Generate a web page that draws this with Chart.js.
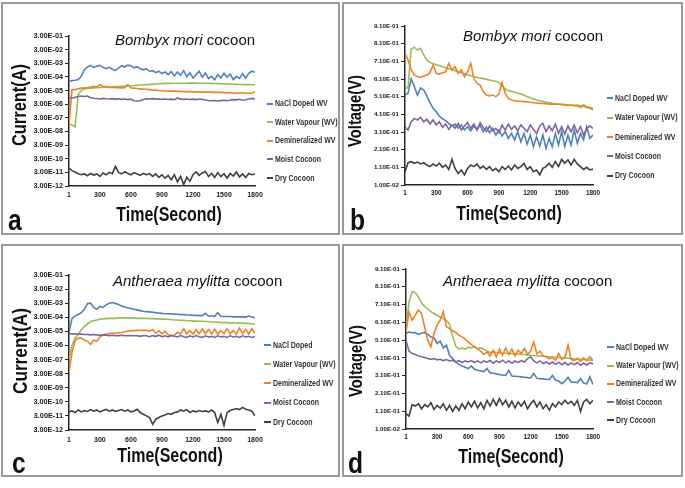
<!DOCTYPE html>
<html>
<head>
<meta charset="utf-8">
<title>Cocoon current / voltage vs time</title>
<script src="https://cdn.jsdelivr.net/npm/chart.js@4.4.1/dist/chart.umd.min.js"></script>
<style>
  html, body { margin: 0; padding: 0; background: #fff; }
  body { width: 685px; height: 488px; position: relative; overflow: hidden;
         font-family: 'Liberation Sans', Arial, sans-serif; color: #111; }
  .panel { position: absolute; box-sizing: border-box; border: 2px solid #9a9a9a; }
  .panel canvas { position: absolute; left: 0; top: 0; }
  .txt { position: absolute; white-space: nowrap; line-height: 1; }
  /* no narrow face installed: squeeze the bold face instead */
  .narrow { font-weight: bold; }
  .species { font-size: 15px; }
  .xtitle { font-size: 19.5px; transform: translate(-50%, -50%) scaleX(0.82); }
  .ytitle { transform: translate(-50%, -50%) rotate(-90deg) scaleX(0.82); }
  .letter { font-size: 30px; transform: scaleX(0.82); transform-origin: left center; }
  .leg { position: absolute; white-space: nowrap; font-size: 8.5px; line-height: 1; color: #333;
         transform: scaleX(0.82); transform-origin: left center; }
  .mark { position: absolute; height: 2px; }
</style>
</head>
<body>

<div class="panel" style="left:1px;top:2px;width:339px;height:233px"><canvas id="chart-a" width="335" height="229"></canvas></div>
<div class="panel" style="left:342px;top:2px;width:341px;height:233px"><canvas id="chart-b" width="337" height="229"></canvas></div>
<div class="panel" style="left:1px;top:244px;width:339px;height:233px"><canvas id="chart-c" width="335" height="229"></canvas></div>
<div class="panel" style="left:342px;top:244px;width:341px;height:233px"><canvas id="chart-d" width="337" height="229"></canvas></div>

<!-- species titles -->
<div class="txt species" style="left:115px;top:31.7px"><i>Bombyx mori</i> cocoon</div>
<div class="txt species" style="left:463px;top:27.7px"><i>Bombyx mori</i> cocoon</div>
<div class="txt species" style="left:113px;top:272.7px"><i>Antheraea mylitta</i> cocoon</div>
<div class="txt species" style="left:443px;top:272.7px"><i>Antheraea mylitta</i> cocoon</div>

<!-- axis titles -->
<div class="txt narrow ytitle" style="left:19px;top:105px;font-size:20px">Current(A)</div>
<div class="txt narrow ytitle" style="left:355px;top:111px;font-size:18px">Voltage(V)</div>
<div class="txt narrow ytitle" style="left:18.5px;top:351px;font-size:21px">Current(A)</div>
<div class="txt narrow ytitle" style="left:356px;top:361px;font-size:18px">Voltage(V)</div>
<div class="txt narrow xtitle" style="left:169px;top:214.5px">Time(Second)</div>
<div class="txt narrow xtitle" style="left:508.5px;top:214px">Time(Second)</div>
<div class="txt narrow xtitle" style="left:169.5px;top:456px">Time(Second)</div>
<div class="txt narrow xtitle" style="left:511px;top:457px">Time(Second)</div>

<!-- panel letters -->
<div class="txt narrow letter" style="left:8px;top:204.6px">a</div>
<div class="txt narrow letter" style="left:350px;top:204.6px">b</div>
<div class="txt narrow letter" style="left:12px;top:447.6px">c</div>
<div class="txt narrow letter" style="left:348px;top:447.6px">d</div>

<div id="legends"></div>

<script>
// sampling times (s)
const times = [1, 30, 60, 90, 120, 150, 180, 210, 240, 270, 300, 330, 360, 390, 420, 450, 480, 510, 540, 570,
  600, 630, 660, 690, 720, 750, 780, 810, 840, 870, 900, 930, 960, 990, 1020, 1050, 1080, 1110, 1140, 1170,
  1200, 1230, 1260, 1290, 1320, 1350, 1380, 1410, 1440, 1470, 1500, 1530, 1560, 1590, 1620, 1650, 1680, 1710,
  1740, 1770, 1800];
const timeTicks = [1, 300, 600, 900, 1200, 1500, 1800];
const currentTicks = [3e-12, 3e-11, 3e-10, 3e-9, 3e-8, 3e-7, 3e-6, 3e-5, 3e-4, 3e-3, 3e-2, 3e-1];
const voltageTicks = [0.01, 0.11, 0.21, 0.31, 0.41, 0.51, 0.61, 0.71, 0.81, 0.91];

const namesWV = ['NaCl Doped WV', 'Water Vapour (WV)', 'Demineralized WV', 'Moist Cocoon', 'Dry Cocoon'];
const namesC = ['NaCl Doped', 'Water Vapour (WV)', 'Demineralized WV', 'Moist Cocoon', 'Dry Cocoon'];
const seriesColors = ['#4f81bd', '#9bbb59', '#f28024', '#8064a2', '#404040'];

// a - Bombyx mori, current (A)
const naclA = [1.45e-4, 1.6e-4, 1.7e-4, 1.9e-4, 3.3e-4, 1.0e-3, 1.6e-3, 2.1e-3, 1.5e-3, 1.8e-3,
  2.1e-3, 1.5e-3, 1.2e-3, 1.5e-3, 1.1e-3, 9e-4, 1.3e-3, 2.0e-3, 1.6e-3, 2.2e-3,
  2.0e-3, 1.4e-3, 1.7e-3, 1.2e-3, 1.0e-3, 1.2e-3, 7.8e-4, 8.6e-4, 6.2e-4, 7.8e-4,
  5.3e-4, 7e-4, 4.4e-4, 7.4e-4, 3.5e-4, 7e-4, 4e-4, 8.6e-4, 3.2e-4, 5.9e-4,
  2.5e-4, 4.4e-4, 7.8e-4, 2.8e-4, 5.9e-4, 2.3e-4, 3.3e-4, 1.9e-4, 4.4e-4, 2.5e-4,
  5.6e-4, 2.8e-4, 4.9e-4, 1.9e-4, 3.3e-4, 2.3e-4, 5.3e-4, 2.5e-4, 5.6e-4, 7.8e-4, 6.5e-4];
const waterA = [1.15e-7, 9e-8, 6.4e-8, 1.5e-5, 3e-5, 4e-5, 4.3e-5, 4.5e-5, 4.7e-5, 4.8e-5,
  5e-5, 5.2e-5, 5.3e-5, 5.5e-5, 5.6e-5, 5.8e-5, 6e-5, 6.2e-5, 6.4e-5, 6.6e-5,
  6.8e-5, 7e-5, 7.3e-5, 7.6e-5, 7.9e-5, 8.2e-5, 8.5e-5, 8.8e-5, 9.1e-5, 9.4e-5,
  9.7e-5, 1e-4, 1e-4, 1e-4, 1.02e-4, 1.03e-4, 1.03e-4, 1.04e-4, 1.04e-4, 1.05e-4,
  1.05e-4, 1.05e-4, 1.04e-4, 1.04e-4, 1.03e-4, 1.02e-4, 1e-4, 9.8e-5, 9.6e-5, 9.4e-5,
  9.2e-5, 9e-5, 8.8e-5, 8.6e-5, 8.5e-5, 8.4e-5, 8.3e-5, 8.2e-5, 8.1e-5, 8e-5, 7.9e-5];
const demA = [1e-7, 3.5e-5, 3.5e-5, 4e-5, 4.5e-5, 4.7e-5, 5e-5, 5.5e-5, 6.2e-5, 5.5e-5,
  8e-5, 6.2e-5, 5.8e-5, 5e-5, 5.2e-5, 4.8e-5, 5e-5, 4.7e-5, 4.8e-5, 8.2e-5,
  4.6e-5, 4.5e-5, 4.2e-5, 4e-5, 3.8e-5, 3.7e-5, 3.5e-5, 3.3e-5, 3.2e-5, 3e-5,
  2.9e-5, 2.8e-5, 2.8e-5, 2.7e-5, 2.7e-5, 2.6e-5, 2.6e-5, 2.5e-5, 2.5e-5, 2.5e-5,
  2.4e-5, 2.4e-5, 2.4e-5, 2.3e-5, 2.3e-5, 2.3e-5, 2.3e-5, 2.2e-5, 2.2e-5, 2.2e-5,
  2.1e-5, 2.1e-5, 2.1e-5, 2e-5, 2e-5, 2e-5, 2e-5, 1.9e-5, 1.9e-5, 2e-5, 2.5e-5];
const moistA = [8.6e-6, 8.6e-6, 9.5e-6, 1.1e-5, 1.2e-5, 1.1e-5, 1.2e-5, 9e-6, 8.2e-6, 7.8e-6,
  7.2e-6, 8e-6, 7.5e-6, 7.2e-6, 7.6e-6, 7e-6, 7.4e-6, 6.8e-6, 7.2e-6, 6.5e-6,
  7e-6, 5.4e-6, 5.2e-6, 5.4e-6, 6.5e-6, 7.5e-6, 7.2e-6, 7.6e-6, 7e-6, 7.2e-6,
  6.8e-6, 7.2e-6, 6.6e-6, 7e-6, 6.5e-6, 8.6e-6, 7e-6, 6.8e-6, 7.2e-6, 6.6e-6,
  7e-6, 6.5e-6, 7.2e-6, 6.8e-6, 6e-6, 5.6e-6, 5.4e-6, 5.6e-6, 5.2e-6, 5.5e-6,
  5.8e-6, 5.4e-6, 6e-6, 6.5e-6, 6.2e-6, 6.8e-6, 5.8e-6, 6.4e-6, 7.2e-6, 8e-6, 7.2e-6];
const dryA = [6.2e-11, 4e-11, 3.2e-11, 2.4e-11, 2e-11, 2.3e-11, 1.7e-11, 2.5e-11, 1.9e-11, 2.3e-11,
  1.5e-11, 2.7e-11, 2e-11, 3e-11, 2.4e-11, 8.2e-11, 3e-11, 2.3e-11, 3.3e-11, 2.5e-11,
  2e-11, 2.9e-11, 2.3e-11, 1.8e-11, 2.5e-11, 2e-11, 2.4e-11, 1.5e-11, 2.3e-11, 1.3e-11,
  2e-11, 1.15e-11, 1.8e-11, 8.7e-12, 2e-11, 5.9e-12, 1.5e-11, 3.8e-12, 1.3e-11, 6.6e-12,
  2e-11, 3.2e-11, 1.8e-11, 2.7e-11, 3.5e-11, 1.5e-11, 2.5e-11, 1.3e-11, 2.9e-11, 1.45e-11,
  2.4e-11, 1.15e-11, 2.5e-11, 1.6e-11, 3.2e-11, 1.4e-11, 2.3e-11, 1.25e-11, 2.5e-11, 2e-11, 2.3e-11];

// b - Bombyx mori, voltage (V)
const naclB = [0.519, 0.529, 0.61, 0.567, 0.519, 0.56, 0.548, 0.514, 0.476, 0.444,
  0.425, 0.4, 0.385, 0.374, 0.359, 0.344, 0.355, 0.331, 0.35, 0.321,
  0.34, 0.316, 0.344, 0.325, 0.348, 0.312, 0.338, 0.306, 0.331, 0.293,
  0.321, 0.287, 0.312, 0.274, 0.302, 0.265, 0.312, 0.255, 0.302, 0.242,
  0.293, 0.227, 0.284, 0.23, 0.293, 0.218, 0.274, 0.227, 0.302, 0.236,
  0.312, 0.227, 0.293, 0.236, 0.321, 0.246, 0.302, 0.265, 0.34, 0.274, 0.293];
const waterB = [0.567, 0.557, 0.778, 0.79, 0.774, 0.784, 0.746, 0.718, 0.704, 0.697,
  0.691, 0.686, 0.68, 0.674, 0.668, 0.663, 0.657, 0.651, 0.646, 0.64,
  0.634, 0.629, 0.623, 0.619, 0.616, 0.612, 0.608, 0.604, 0.6, 0.597,
  0.591, 0.572, 0.553, 0.544, 0.54, 0.536, 0.529, 0.525, 0.519, 0.51,
  0.504, 0.497, 0.491, 0.487, 0.484, 0.48, 0.476, 0.472, 0.47, 0.468,
  0.467, 0.465, 0.463, 0.461, 0.461, 0.463, 0.459, 0.463, 0.453, 0.444, 0.435];
const demB = [0.755, 0.718, 0.661, 0.633, 0.623, 0.619, 0.627, 0.633, 0.646, 0.69,
  0.642, 0.638, 0.646, 0.651, 0.699, 0.661, 0.68, 0.642, 0.661, 0.623,
  0.651, 0.699, 0.614, 0.585, 0.576, 0.538, 0.519, 0.514, 0.519, 0.51,
  0.525, 0.589, 0.529, 0.5, 0.491, 0.487, 0.485, 0.484, 0.482, 0.48,
  0.478, 0.476, 0.474, 0.472, 0.472, 0.47, 0.468, 0.468, 0.467, 0.467,
  0.465, 0.465, 0.461, 0.463, 0.459, 0.457, 0.45, 0.457, 0.448, 0.45, 0.442];
const moistB = [0.34, 0.321, 0.368, 0.387, 0.378, 0.393, 0.368, 0.382, 0.355, 0.378,
  0.35, 0.368, 0.336, 0.355, 0.325, 0.35, 0.331, 0.359, 0.321, 0.344,
  0.363, 0.331, 0.355, 0.321, 0.363, 0.336, 0.312, 0.344, 0.317, 0.331,
  0.306, 0.35, 0.321, 0.355, 0.325, 0.344, 0.317, 0.35, 0.331, 0.312,
  0.35, 0.325, 0.302, 0.344, 0.359, 0.312, 0.344, 0.317, 0.355, 0.302,
  0.34, 0.298, 0.344, 0.312, 0.35, 0.306, 0.34, 0.293, 0.331, 0.344, 0.331];
const dryB = [0.085, 0.136, 0.142, 0.133, 0.14, 0.129, 0.136, 0.123, 0.114, 0.129,
  0.117, 0.133, 0.11, 0.123, 0.098, 0.155, 0.104, 0.076, 0.095, 0.067,
  0.104, 0.123, 0.114, 0.129, 0.104, 0.117, 0.098, 0.114, 0.091, 0.104,
  0.085, 0.114, 0.098, 0.117, 0.095, 0.123, 0.104, 0.114, 0.133, 0.098,
  0.114, 0.085, 0.095, 0.067, 0.104, 0.114, 0.133, 0.11, 0.142, 0.114,
  0.155, 0.133, 0.152, 0.123, 0.155, 0.129, 0.114, 0.098, 0.11, 0.095, 0.1];

// c - Antheraea mylitta, current (A)
const naclC = [2.5e-5, 2.4e-4, 3.8e-4, 4.7e-4, 6.4e-4, 1.1e-3, 2.8e-3, 3e-3, 1.5e-3, 1.1e-3,
  1.8e-3, 1.5e-3, 2.3e-3, 3e-3, 3.3e-3, 2.9e-3, 2.4e-3, 1.9e-3, 1.6e-3, 1.4e-3,
  1.25e-3, 1.1e-3, 1e-3, 8.9e-4, 8e-4, 7.6e-4, 7.2e-4, 6.8e-4, 6.4e-4, 6.1e-4,
  5.7e-4, 5.4e-4, 5.4e-4, 5.2e-4, 4.9e-4, 4.9e-4, 4.6e-4, 4.6e-4, 4.4e-4, 4.4e-4,
  4.1e-4, 4.1e-4, 3.9e-4, 3.9e-4, 5.7e-4, 3.7e-4, 3.7e-4, 3.5e-4, 6.4e-4, 3.5e-4,
  3.4e-4, 3.4e-4, 3.4e-4, 3.2e-4, 3.2e-4, 3.2e-4, 3.2e-4, 3.1e-4, 3.7e-4, 3.1e-4, 2.8e-4];
const waterC = [3e-7, 3e-6, 1e-5, 1.9e-5, 3.9e-5, 6.8e-5, 1e-4, 1.5e-4, 1.7e-4, 1.9e-4,
  2.2e-4, 2.3e-4, 2.4e-4, 2.5e-4, 2.5e-4, 2.5e-4, 2.7e-4, 2.7e-4, 2.7e-4, 2.7e-4,
  2.7e-4, 2.7e-4, 2.5e-4, 2.5e-4, 2.5e-4, 2.5e-4, 2.4e-4, 2.4e-4, 2.3e-4, 2.3e-4,
  2.2e-4, 2.2e-4, 2.1e-4, 2.1e-4, 1.9e-4, 1.9e-4, 1.8e-4, 1.8e-4, 1.7e-4, 1.7e-4,
  1.6e-4, 1.6e-4, 1.55e-4, 1.55e-4, 1.5e-4, 1.5e-4, 1.4e-4, 1.4e-4, 1.3e-4, 1.3e-4,
  1.25e-4, 1.25e-4, 1.2e-4, 1.2e-4, 1.2e-4, 1.15e-4, 1.15e-4, 1.1e-4, 1.1e-4, 1e-4, 1e-4];
const demC = [3.5e-8, 9.7e-7, 6.5e-6, 1e-5, 1e-5, 7.4e-6, 5.9e-6, 3.5e-6, 7.4e-6, 5.9e-6,
  1.2e-5, 1.7e-5, 1.9e-5, 2.1e-5, 2.2e-5, 2.3e-5, 2.4e-5, 2.5e-5, 2.8e-5, 3.1e-5,
  3.3e-5, 3.4e-5, 3.5e-5, 3.5e-5, 3.5e-5, 3.5e-5, 3.1e-5, 4e-5, 2.2e-5, 3.3e-5,
  2e-5, 3.1e-5, 1.7e-5, 1.5e-5, 1.6e-5, 2.5e-5, 2e-5, 4.6e-5, 2e-5, 3.5e-5,
  1.9e-5, 4e-5, 2e-5, 4.6e-5, 2.1e-5, 4e-5, 2e-5, 4.3e-5, 1.9e-5, 3.3e-5,
  2.1e-5, 4.6e-5, 2e-5, 3.5e-5, 1.9e-5, 5e-5, 2.1e-5, 4e-5, 2e-5, 4.6e-5, 2.2e-5];
const moistC = [2.1e-5, 2e-5, 2e-5, 1.9e-5, 1.9e-5, 1.8e-5, 1.8e-5, 1.7e-5, 1.8e-5, 1.7e-5,
  1.6e-5, 1.7e-5, 1.6e-5, 1.5e-5, 1.6e-5, 1.5e-5, 1.5e-5, 1.6e-5, 1.5e-5, 1.45e-5,
  1.5e-5, 1.45e-5, 1.5e-5, 1.33e-5, 1.5e-5, 1.45e-5, 1.25e-5, 1.5e-5, 1.33e-5, 1.6e-5,
  1.25e-5, 1.45e-5, 1.2e-5, 1.5e-5, 1.33e-5, 1.2e-5, 1.5e-5, 1.25e-5, 1.12e-5, 1.45e-5,
  1.2e-5, 1.5e-5, 1.25e-5, 1.12e-5, 1.45e-5, 1.2e-5, 1.33e-5, 1.12e-5, 1.45e-5, 1.2e-5,
  1.33e-5, 1.12e-5, 1.45e-5, 1.2e-5, 1.33e-5, 1.12e-5, 1.45e-5, 1.2e-5, 1.33e-5, 1.12e-5, 1.25e-5];
const dryC = [5.8e-11, 6.8e-11, 5.2e-11, 7.9e-11, 5.8e-11, 7.2e-11, 6.2e-11, 8.4e-11, 6.5e-11, 7.9e-11,
  5.8e-11, 7.2e-11, 8.7e-11, 6.5e-11, 7.9e-11, 6.2e-11, 7.2e-11, 8.4e-11, 6.5e-11, 7.9e-11,
  5.8e-11, 6.8e-11, 9e-11, 5.2e-11, 3.9e-11, 3e-11, 2.3e-11, 7.6e-12, 1.7e-11, 2.3e-11,
  3e-11, 3.5e-11, 4.4e-11, 3.9e-11, 5.2e-11, 5.8e-11, 7.9e-11, 6.5e-11, 8.4e-11, 5.2e-11,
  6.8e-11, 5.8e-11, 7.2e-11, 6.2e-11, 6.8e-11, 5.8e-11, 7.9e-11, 5.2e-11, 1e-11, 3.9e-11,
  6.4e-12, 5.2e-11, 7.2e-11, 8.7e-11, 1e-10, 8.4e-11, 1.2e-10, 9e-11, 7.9e-11, 6.5e-11, 3e-11];

// d - Antheraea mylitta, voltage (V)
const naclD = [0.547, 0.557, 0.551, 0.553, 0.542, 0.549, 0.553, 0.542, 0.528, 0.523,
  0.491, 0.504, 0.466, 0.481, 0.425, 0.406, 0.387, 0.372, 0.365, 0.357,
  0.35, 0.365, 0.346, 0.34, 0.337, 0.333, 0.35, 0.327, 0.324, 0.32,
  0.316, 0.314, 0.312, 0.34, 0.308, 0.307, 0.305, 0.303, 0.301, 0.299,
  0.297, 0.322, 0.295, 0.293, 0.292, 0.29, 0.288, 0.312, 0.284, 0.28,
  0.265, 0.279, 0.301, 0.275, 0.273, 0.271, 0.293, 0.268, 0.263, 0.303, 0.26];
const waterD = [0.557, 0.726, 0.782, 0.778, 0.754, 0.72, 0.7, 0.685, 0.67, 0.66,
  0.65, 0.64, 0.63, 0.62, 0.6, 0.53, 0.475, 0.459, 0.466, 0.459,
  0.47, 0.466, 0.474, 0.463, 0.466, 0.459, 0.448, 0.44, 0.444, 0.44,
  0.438, 0.436, 0.436, 0.434, 0.434, 0.433, 0.431, 0.429, 0.429, 0.427,
  0.425, 0.423, 0.421, 0.421, 0.419, 0.418, 0.416, 0.416, 0.414, 0.412,
  0.41, 0.41, 0.408, 0.406, 0.404, 0.402, 0.402, 0.401, 0.399, 0.397, 0.399];
const demD = [0.557, 0.669, 0.622, 0.651, 0.679, 0.66, 0.585, 0.51, 0.472, 0.547,
  0.594, 0.622, 0.669, 0.585, 0.575, 0.562, 0.553, 0.538, 0.528, 0.515,
  0.5, 0.485, 0.472, 0.459, 0.448, 0.429, 0.444, 0.421, 0.453, 0.416,
  0.459, 0.425, 0.466, 0.429, 0.459, 0.421, 0.453, 0.434, 0.463, 0.429,
  0.448, 0.5, 0.434, 0.448, 0.421, 0.416, 0.406, 0.41, 0.397, 0.434,
  0.402, 0.414, 0.481, 0.402, 0.395, 0.406, 0.391, 0.41, 0.395, 0.416, 0.393];
const moistD = [0.51, 0.448, 0.434, 0.429, 0.421, 0.416, 0.412, 0.406, 0.402, 0.406,
  0.399, 0.402, 0.395, 0.401, 0.393, 0.397, 0.387, 0.395, 0.384, 0.393,
  0.387, 0.395, 0.384, 0.393, 0.382, 0.393, 0.386, 0.395, 0.38, 0.393,
  0.384, 0.397, 0.382, 0.393, 0.38, 0.393, 0.384, 0.395, 0.387, 0.406,
  0.416, 0.393, 0.382, 0.393, 0.378, 0.387, 0.376, 0.387, 0.374, 0.386,
  0.372, 0.384, 0.37, 0.382, 0.372, 0.384, 0.369, 0.38, 0.37, 0.382, 0.376];
const dryD = [0.096, 0.083, 0.147, 0.139, 0.152, 0.124, 0.147, 0.134, 0.158, 0.12,
  0.143, 0.128, 0.152, 0.115, 0.143, 0.109, 0.139, 0.115, 0.152, 0.124,
  0.162, 0.134, 0.166, 0.128, 0.158, 0.124, 0.171, 0.139, 0.177, 0.143,
  0.181, 0.147, 0.171, 0.134, 0.166, 0.128, 0.162, 0.139, 0.166, 0.124,
  0.152, 0.171, 0.134, 0.162, 0.124, 0.147, 0.115, 0.152, 0.134, 0.162,
  0.147, 0.171, 0.152, 0.166, 0.143, 0.171, 0.109, 0.162, 0.177, 0.152, 0.171];

const TICK_FONT = "'Liberation Sans', Arial, sans-serif";
const AXIS = '#262626';

// Excel style "3.00E-01"
function sci(v) {
  const parts = v.toExponential(2).split('e');
  const exp = parseInt(parts[1], 10);
  return parts[0] + 'E' + (exp < 0 ? '-' : '+') + String(Math.abs(exp)).padStart(2, '0');
}

const panels = [
  { id: 'chart-a', series: [naclA, waterA, demA, moistA, dryA], names: namesWV, log: true,
    yWidth: 66, xHeight: 47, padTop: 32, padRight: 83, yTick: 7.3, xTick: 7, xPad: 4.8,
    legend: { mark: 267, text: 275, y0: 103.5, dy: 18.6 } },
  { id: 'chart-b', series: [naclB, waterB, demB, moistB, dryB], names: namesWV, log: false,
    yWidth: 61, xHeight: 48, padTop: 22, padRight: 88, yTick: 6.2, xTick: 6.4, xPad: 4.2,
    legend: { mark: 607, text: 615, y0: 98.3, dy: 19.3 } },
  { id: 'chart-c', series: [naclC, waterC, demC, moistC, dryC], names: namesC, log: true,
    yWidth: 66, xHeight: 45, padTop: 29, padRight: 83, yTick: 7.3, xTick: 7, xPad: 5.8,
    legend: { mark: 264, text: 273, y0: 345, dy: 19.2 } },
  { id: 'chart-d', series: [naclD, waterD, demD, moistD, dryD], names: namesWV, log: false,
    yWidth: 62, xHeight: 46, padTop: 23, padRight: 88, yTick: 6.2, xTick: 6.4, xPad: 3.9,
    legend: { mark: 607, text: 616, y0: 347.3, dy: 18.2 } }
];

function buildChart(p) {
  const datasets = p.series.map((vals, i) => ({
    label: p.names[i],
    data: times.map((t, k) => ({ x: t, y: vals[k] })),
    borderColor: seriesColors[i],
    borderWidth: 1.6,
    pointRadius: 0,
    tension: 0,
    fill: false,
    order: p.series.length - i
  }));
  const yTicks = p.log ? currentTicks : voltageTicks;

  return new Chart(document.getElementById(p.id), {
    type: 'line',
    data: { datasets: datasets },
    options: {
      responsive: false,
      animation: false,
      devicePixelRatio: 1,
      layout: { padding: { left: 0, top: p.padTop, right: p.padRight, bottom: 0 } },
      plugins: { legend: { display: false }, tooltip: { enabled: false } },
      scales: {
        x: {
          type: 'linear',
          min: 1,
          max: 1800,
          afterBuildTicks: sc => { sc.ticks = timeTicks.map(v => ({ value: v })); },
          afterFit: sc => { sc.height = p.xHeight; },
          grid: { drawOnChartArea: false, drawTicks: false },
          border: { display: true, color: AXIS, width: 1.5 },
          ticks: {
            autoSkip: false, maxRotation: 0, minRotation: 0, padding: p.xPad, color: '#1a1a1a',
            font: { family: TICK_FONT, size: p.xTick, weight: 'bold' },
            callback: v => String(v)
          }
        },
        y: {
          type: p.log ? 'logarithmic' : 'linear',
          min: yTicks[0],
          max: yTicks[yTicks.length - 1],
          afterBuildTicks: sc => { sc.ticks = yTicks.map(v => ({ value: v })); },
          afterFit: sc => { sc.width = p.yWidth; },
          grid: { drawOnChartArea: false, drawTicks: true, tickLength: 4, color: AXIS, lineWidth: 1 },
          border: { display: true, color: AXIS, width: 1.5 },
          ticks: {
            autoSkip: false, padding: 2, color: '#1a1a1a',
            font: { family: TICK_FONT, size: p.yTick, weight: 'bold' },
            callback: v => sci(v)
          }
        }
      }
    }
  });
}

// legend drawn from each chart's datasets
function buildLegend(chart, p) {
  const box = document.getElementById('legends');
  chart.data.datasets.forEach((ds, i) => {
    const y = p.legend.y0 + i * p.legend.dy;
    const mark = document.createElement('div');
    mark.className = 'mark';
    mark.style.left = p.legend.mark + 'px';
    mark.style.width = (p.legend.text - p.legend.mark - 2) + 'px';
    mark.style.top = (y - 1) + 'px';
    mark.style.background = ds.borderColor;
    box.appendChild(mark);

    const label = document.createElement('div');
    label.className = 'leg narrow';
    label.style.left = p.legend.text + 'px';
    label.style.top = (y - 4.3) + 'px';
    label.textContent = ds.label;
    box.appendChild(label);
  });
}

panels.forEach(p => {
  const chart = buildChart(p);
  buildLegend(chart, p);
});
</script>
</body>
</html>
